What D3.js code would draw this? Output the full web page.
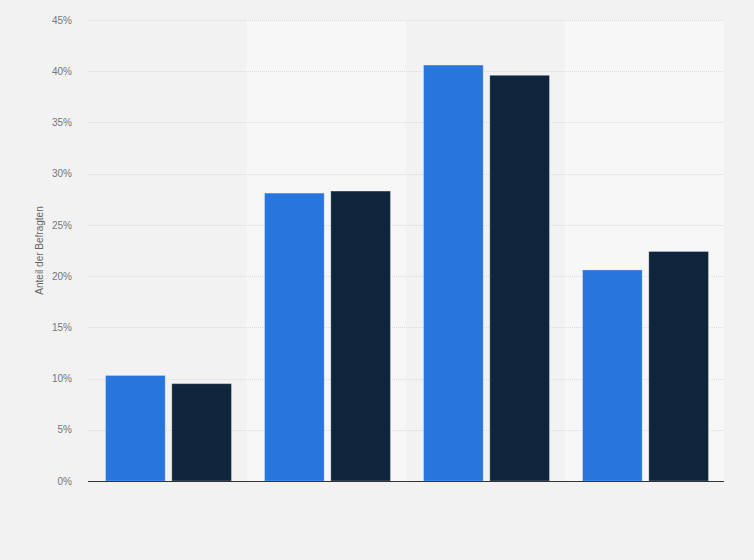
<!DOCTYPE html>
<html>
<head>
<meta charset="utf-8">
<script src="https://cdn.jsdelivr.net/npm/d3@7"></script>
<style>
  body { margin: 0; background: #f2f2f2; }
  svg { display: block; font-family: "Liberation Sans", Arial, sans-serif; }
</style>
</head>
<body>
<div id="chart"></div>
<script>
//Data
let categories = ["A", "B", "C", "D"];
let seriesNames = ["Serie 1", "Serie 2"];
let series1 = [10.3, 28.1, 40.6, 20.6];
let series2 = [9.5, 28.3, 39.6, 22.4];
let yTicks = [0, 5, 10, 15, 20, 25, 30, 35, 40, 45];

let svgWidth = 754, svgHeight = 560;
let margin = { top: 20, right: 30, bottom: 79, left: 88 };
let width = svgWidth - margin.left - margin.right;
let height = svgHeight - margin.top - margin.bottom;

let svg = d3.select("#chart").append("svg")
  .attr("width", svgWidth)
  .attr("height", svgHeight);

svg.append("rect").attr("width", svgWidth).attr("height", svgHeight).attr("fill", "#f2f2f2");

let g = svg.append("g").attr("transform", `translate(${margin.left}, ${margin.top})`);

let x = d3.scaleBand().domain(categories).range([0, width]);
let xInner = d3.scaleBand().domain(seriesNames).range([0, x.bandwidth()]).paddingInner(0.1).paddingOuter(0.25);
let y = d3.scaleLinear().domain([0, 45]).range([height, 0]);

//Alternating column bands
g.selectAll(".band")
  .data(categories)
  .enter().append("rect")
  .attr("x", d => x(d))
  .attr("y", 0)
  .attr("width", x.bandwidth())
  .attr("height", height)
  .attr("fill", (d, i) => i % 2 ? "#f7f7f7" : "#f2f2f2");

//Grid lines
g.selectAll(".grid")
  .data(yTicks.slice(1))
  .enter().append("line")
  .attr("x1", 0).attr("x2", width)
  .attr("y1", d => Math.round(y(d)) + 0.5)
  .attr("y2", d => Math.round(y(d)) + 0.5)
  .attr("stroke", "#dcdcdc")
  .attr("stroke-dasharray", "1,1");

//Y axis labels
let yAxis = d3.axisLeft(y).tickValues(yTicks).tickFormat(d => d + "%").tickSize(0).tickPadding(16);
g.append("g").call(yAxis)
  .call(a => a.select(".domain").remove())
  .selectAll("text")
  .attr("fill", "#777")
  .style("font-size", "10px");

//Bars
let rows = categories.map((c, i) => ({ cat: c, values: [series1[i], series2[i]] }));
let colors = ["#2876dd", "#0f253c"];

g.selectAll(".group")
  .data(rows)
  .enter().append("g")
  .attr("transform", d => `translate(${x(d.cat) + 1}, 0)`)
  .selectAll("rect")
  .data(d => d.values.map((v, j) => ({ name: seriesNames[j], value: v, j: j })))
  .enter().append("rect")
  .attr("x", d => xInner(d.name))
  .attr("y", d => y(d.value))
  .attr("width", xInner.bandwidth())
  .attr("height", d => height - y(d.value))
  .attr("fill", d => colors[d.j])
  .attr("stroke", "rgba(255,255,255,0.25)")
  .attr("stroke-width", 1);

//Baseline
g.append("line")
  .attr("x1", 0).attr("x2", width)
  .attr("y1", height + 0.5).attr("y2", height + 0.5)
  .attr("stroke", "#333")
  .attr("stroke-width", 1.2);

//Axis title
svg.append("text")
  .attr("transform", `translate(43, ${margin.top + height / 2}) rotate(-90)`)
  .attr("text-anchor", "middle")
  .attr("fill", "#666")
  .style("font-size", "10px")
  .text("Anteil der Befragten");
</script>
</body>
</html>
